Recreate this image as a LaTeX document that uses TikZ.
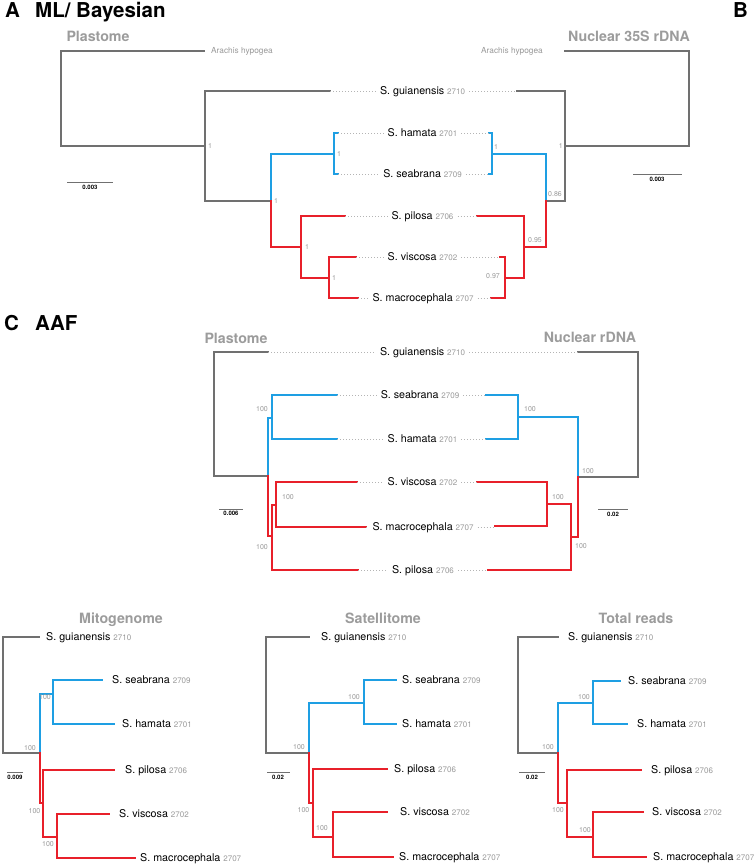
\documentclass[tikz,border=0pt]{standalone}
\usepackage{fontspec}
\setmainfont{TeX Gyre Heros}
\definecolor{tgray}{HTML}{707070}
\definecolor{titlegray}{HTML}{9C9C9C}
\definecolor{numgray}{HTML}{9A9A9A}
\definecolor{dotgray}{HTML}{B4B4B4}
\definecolor{cblue}{HTML}{1E9FE3}
\definecolor{cred}{HTML}{E8202A}
\newcommand{\tx}[2]{#1 {\fontsize{8}{8}\selectfont\color{numgray}#2}}
\begin{document}
\begin{tikzpicture}[x=1pt,y=-1pt,
  gl/.style={draw=tgray,line width=1.1pt,line cap=rect},
  bl/.style={draw=cblue,line width=1.8pt,line cap=rect},
  rl/.style={draw=cred,line width=1.8pt,line cap=rect},
  dl/.style={draw=dotgray,line width=0.8pt,dash pattern=on 0.8pt off 2.2pt},
  sb/.style={draw=tgray,line width=0.9pt},
  sp/.style={font=\fontsize{10.7}{12}\selectfont,text height=7.7pt,text depth=0pt,inner ysep=0pt,inner xsep=4pt},
  spw/.style={sp,anchor=west,inner xsep=0pt},
  nl/.style={font=\fontsize{7}{8}\selectfont,text=numgray,text height=5pt,text depth=0pt,inner sep=0pt},
  sl/.style={font=\fontsize{6}{7}\selectfont\bfseries,inner sep=0pt},
  ttl/.style={font=\fontsize{14.2}{16}\selectfont\bfseries,text=titlegray,anchor=base,inner sep=0pt},
  big/.style={font=\fontsize{20.5}{22}\selectfont\bfseries,anchor=base west,inner sep=0pt},
  ara/.style={font=\fontsize{8.3}{9}\selectfont,text=numgray,text height=6pt,text depth=0pt,inner sep=0pt}
]
\useasboundingbox (0,0) rectangle (754,864);
\fill[white] (0,0) rectangle (754,864);

% ---------------- Panel A / B ----------------
\node[big] (A) at (5,17.5) {A};
\node[big] (Atitle) at (35,17.5) {ML/ Bayesian};
\node[big] (B) at (733,18) {B};
\node[ttl] (tA1) at (98,42) {Plastome};
\node[ttl] (tA2) at (629,42) {Nuclear 35S rDNA};

% species labels
\node[sp] (ag) at (422.5,91) {\tx{S. guianensis}{2710}};
\node[sp] (ah) at (422.5,133) {\tx{S. hamata}{2701}};
\node[sp] (as) at (422.5,174) {\tx{S. seabrana}{2709}};
\node[sp] (ap) at (422.5,216) {\tx{S. pilosa}{2706}};
\node[sp] (av) at (422.5,257) {\tx{S. viscosa}{2702}};
\node[sp] (am) at (423,298) {\tx{S. macrocephala}{2707}};
\node[ara,anchor=west] (aA1) at (211,51) {Arachis hypogea};
\node[ara,anchor=east] (aA2) at (543,51) {Arachis hypogea};

% left plastome tree
\draw[gl] (204,51) -- (61,51) -- (61,146) -- (205,146);
\draw[gl] (330,91) -- (205,91) -- (205,201) -- (271,201);
\draw[bl] (271,201) -- (271,154) -- (334,154);
\draw[bl] (338,133) -- (334,133) -- (334,174) -- (338,174);
\draw[rl] (271,201) -- (271,247) -- (301,247);
\draw[rl] (345,216) -- (301,216) -- (301,278) -- (329,278);
\draw[rl] (356,257) -- (329,257) -- (329,298) -- (358,298);
% right nuclear tree
\draw[gl] (517,91) -- (565,91) -- (565,201) -- (546,201);
\draw[gl] (565,146) -- (689,146) -- (689,51) -- (565,51);
\draw[bl] (489,133) -- (492,133) -- (492,174) -- (489,174);
\draw[bl] (492,154) -- (546,154) -- (546,201);
\draw[rl] (546,201) -- (546,247) -- (524,247);
\draw[rl] (477,216) -- (524,216) -- (524,278) -- (505,278);
\draw[rl] (500,257) -- (505,257) -- (505,298) -- (491,298);
% dotted
\draw[dl] (330,91) -- (ag.west);  \draw[dl] (ag.east) -- (517,91);
\draw[dl] (338,133) -- (ah.west); \draw[dl] (ah.east) -- (489,133);
\draw[dl] (338,174) -- (as.west); \draw[dl] (as.east) -- (489,174);
\draw[dl] (345,216) -- (ap.west); \draw[dl] (ap.east) -- (477,216);
\draw[dl] (356,257) -- (av.west); \draw[dl] (av.east) -- (500,257);
\draw[dl] (358,298) -- (am.west); \draw[dl] (am.east) -- (491,298);
% support values
\node[nl,anchor=west] (n1) at (208,146) {1};
\node[nl,anchor=west] (n2) at (274,201) {1};
\node[nl,anchor=west] (n3) at (337,154) {1};
\node[nl,anchor=west] (n4) at (305,247) {1};
\node[nl,anchor=west] (n5) at (332,278) {1};
\node[nl,anchor=east] (n6) at (563,146) {1};
\node[nl,anchor=west] (n7) at (494,147) {1};
\node[nl,anchor=west] (n8) at (548,194) {0.86};
\node[nl] (n9) at (535,240) {0.95};
\node[nl] (n10) at (493,276) {0.97};
% scale bars
\draw[sb] (67,182) -- (113,182);
\node[sl] (s1) at (90,187) {0.003};
\draw[sb] (633,174) -- (682,174);
\node[sl] (s2) at (657,179) {0.003};

% ---------------- Panel C ----------------
\node[big] (C) at (4,330) {C};
\node[big] (Ctitle) at (35,330) {AAF};
\node[ttl] (tC1) at (236,343) {Plastome};
\node[ttl] (tC2) at (590,342) {Nuclear rDNA};

\node[sp] (cg) at (422.5,352) {\tx{S. guianensis}{2710}};
\node[sp] (cs) at (420,395) {\tx{S. seabrana}{2709}};
\node[sp] (ch) at (422.5,439) {\tx{S. hamata}{2701}};
\node[sp] (cv) at (422.5,482) {\tx{S. viscosa}{2702}};
\node[sp] (cm) at (423,527) {\tx{S. macrocephala}{2707}};
\node[sp] (cp) at (423,570) {\tx{S. pilosa}{2706}};

% plastome AAF
\draw[gl] (268,352) -- (214,352) -- (214,476) -- (268,476);
\draw[bl] (268,476) -- (268,418) -- (272,418);
\draw[bl] (337,395) -- (272,395) -- (272,439) -- (337,439);
\draw[rl] (268,476) -- (268,536) -- (272,536);
\draw[rl] (358,570) -- (272,570) -- (272,505) -- (276,505);
\draw[rl] (357,482) -- (276,482) -- (276,527) -- (366,527);
% nuclear rDNA AAF
\draw[gl] (578,352) -- (638,352) -- (638,477) -- (578,477);
\draw[bl] (578,477) -- (578,417) -- (518,417);
\draw[bl] (486,395) -- (518,395) -- (518,439) -- (486,439);
\draw[rl] (578,477) -- (578,537) -- (571,537);
\draw[rl] (488,570) -- (571,570) -- (571,504) -- (547,504);
\draw[rl] (477,482) -- (547,482) -- (547,526) -- (495,526);
% dotted
\draw[dl] (268,352) -- (cg.west); \draw[dl] (cg.east) -- (578,352);
\draw[dl] (337,395) -- (cs.west); \draw[dl] (cs.east) -- (486,395);
\draw[dl] (337,439) -- (ch.west); \draw[dl] (ch.east) -- (486,439);
\draw[dl] (357,482) -- (cv.west); \draw[dl] (cv.east) -- (477,482);
\draw[dl] (366,527) -- (cm.west); \draw[dl] (cm.east) -- (495,527);
\draw[dl] (358,570) -- (cp.west); \draw[dl] (cp.east) -- (488,570);
% support
\node[nl] (c1) at (262,409) {100};
\node[nl] (c2) at (288,497) {100};
\node[nl] (c3) at (262,547) {100};
\node[nl] (c4) at (530,409) {100};
\node[nl] (c5) at (588,471) {100};
\node[nl] (c6) at (558,497) {100};
\node[nl] (c7) at (581,546) {100};
% scale bars
\draw[sb] (219,509) -- (243,509);
\node[sl] (s3) at (231,513.5) {0.006};
\draw[sb] (598,509) -- (628,509);
\node[sl] (s4) at (613,514) {0.02};

% ---------------- Bottom trees ----------------
\node[ttl] (tM) at (121,623) {Mitogenome};
\node[ttl] (tS) at (383,623) {Satellitome};
\node[ttl] (tT) at (636,623) {Total reads};

% Mitogenome
\draw[gl] (39,637) -- (3,637) -- (3,753) -- (40,753);
\draw[bl] (40,753) -- (40,694) -- (53,694);
\draw[bl] (102,680) -- (53,680) -- (53,724) -- (114,724);
\draw[rl] (40,753) -- (40,803) -- (43,803);
\draw[rl] (114,770) -- (43,770) -- (43,837) -- (57,837);
\draw[rl] (109,814) -- (57,814) -- (57,858) -- (135,858);
\node[spw] (mg) at (46,637) {\tx{S. guianensis}{2710}};
\node[spw] (ms) at (112,680) {\tx{S. seabrana}{2709}};
\node[spw] (mh) at (122,724) {\tx{S. hamata}{2701}};
\node[spw] (mp) at (125,770) {\tx{S. pilosa}{2706}};
\node[spw] (mv) at (119,814) {\tx{S. viscosa}{2702}};
\node[spw] (mm) at (140,858) {\tx{S. macrocephala}{2707}};
\node[nl] (m1) at (30,748) {100};
\node[nl] (m2) at (45,697) {100};
\node[nl] (m3) at (34.5,811) {100};
\node[nl] (m4) at (48,844) {100};
\draw[sb] (7,772) -- (23,772);
\node[sl] (s5) at (15,777) {0.009};

% Satellitome
\draw[gl] (309,637) -- (266,637) -- (266,753) -- (309,753);
\draw[bl] (309,753) -- (309,703) -- (364,703);
\draw[bl] (396,680) -- (364,680) -- (364,724) -- (396,724);
\draw[rl] (309,753) -- (309,803) -- (313,803);
\draw[rl] (387,769) -- (313,769) -- (313,837) -- (333,837);
\draw[rl] (387,812) -- (333,812) -- (333,857) -- (393,857);
\node[spw] (sg) at (321,637) {\tx{S. guianensis}{2710}};
\node[spw] (ss) at (402,680) {\tx{S. seabrana}{2709}};
\node[spw] (sh) at (402,724) {\tx{S. hamata}{2701}};
\node[spw] (spi) at (394,769) {\tx{S. pilosa}{2706}};
\node[spw] (sv) at (400,812) {\tx{S. viscosa}{2702}};
\node[spw] (sm) at (399,857) {\tx{S. macrocephala}{2707}};
\node[nl] (x1) at (299,747) {100};
\node[nl] (x2) at (354,697) {100};
\node[nl] (x3) at (303.5,810) {100};
\node[nl] (x4) at (322,828) {100};
\draw[sb] (267,772) -- (290,772);
\node[sl] (s6) at (278,777) {0.02};

% Total reads
\draw[gl] (558,637) -- (518,637) -- (518,753) -- (558,753);
\draw[bl] (558,753) -- (558,703) -- (593,703);
\draw[bl] (620,681) -- (593,681) -- (593,724) -- (627,724);
\draw[rl] (558,753) -- (558,803) -- (567,803);
\draw[rl] (641,770) -- (567,770) -- (567,837) -- (593,837);
\draw[rl] (643,812) -- (593,812) -- (593,857) -- (646,857);
\node[spw] (tg) at (568,637) {\tx{S. guianensis}{2710}};
\node[spw] (ts) at (628,681) {\tx{S. seabrana}{2709}};
\node[spw] (th) at (637,724) {\tx{S. hamata}{2701}};
\node[spw] (tp) at (651,770) {\tx{S. pilosa}{2706}};
\node[spw] (tv) at (652,812) {\tx{S. viscosa}{2702}};
\node[spw] (tm) at (653,857) {\tx{S. macrocephala}{2707}};
\node[nl] (y1) at (548,747) {100};
\node[nl] (y2) at (584,697) {100};
\node[nl] (y3) at (558,810) {100};
\node[nl] (y4) at (585,830) {100};
\draw[sb] (519,772) -- (545,772);
\node[sl] (s7) at (532,777) {0.02};
\end{tikzpicture}
\end{document}
